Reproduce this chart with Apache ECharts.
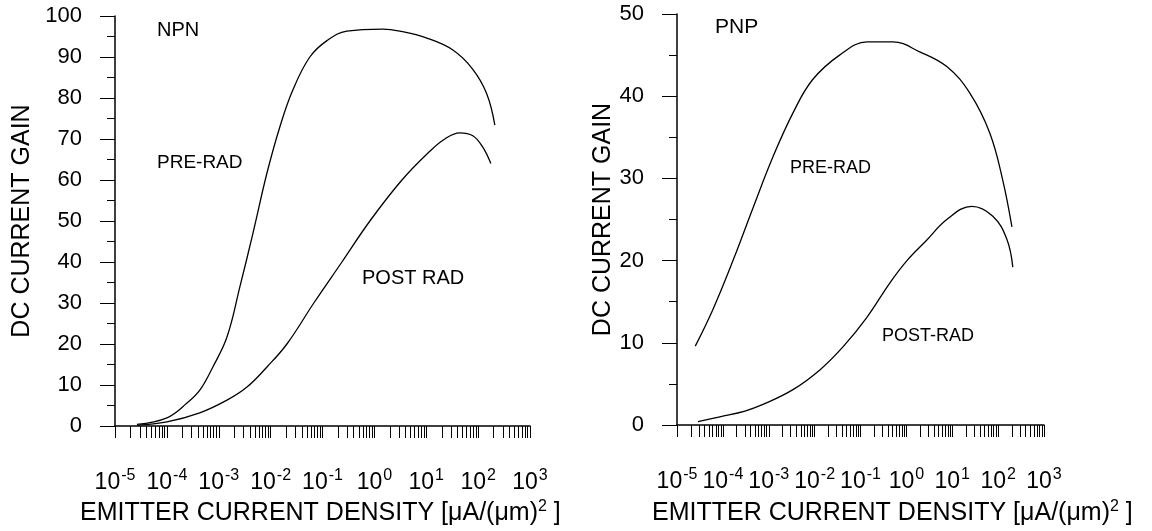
<!DOCTYPE html>
<html>
<head>
    <meta charset="UTF-8"/>
    <title>DC current gain</title>
    <script src="https://cdn.jsdelivr.net/npm/echarts@6/dist/echarts.min.js"></script>
    <style>
        html, body { margin: 0; padding: 0; background: #fff; }
        #charts { width: 1152px; height: 531px; }
    </style>
</head>
<body>
<div id="charts"></div>
<script>
    // emitter current density (uA/um^2) and gain
    var npnPreX = [2.65e-5, 1e-4, 2.44e-4, 4.35e-4, 7.7e-4, 1.44e-3, 2.56e-3, 4.56e-3, 8.5e-3, 0.0151, 0.0269, 0.057, 0.122, 0.295, 1.46, 3.1, 10.3, 32.6, 79, 147, 210];
    var npnPreY = [0.4, 2, 5.6, 8.8, 14.4, 21.7, 34, 47, 61.7, 73, 82, 90, 94, 96.3, 96.8, 96.3, 94.6, 91.7, 87, 81, 73.4];
    var npnPostX = [2.65e-5, 1e-4, 4.3e-4, 1.44e-3, 3.5e-3, 8.5e-3, 0.0206, 0.068, 0.237, 0.82, 3.4, 11.7, 22.8, 44, 79, 123, 176];
    var npnPostY = [0.2, 1, 3.2, 6.3, 9.5, 14.4, 20, 30, 40, 50, 60, 67, 70, 71.5, 70.8, 68, 64];
    var pnpPreX = [2.5e-5, 6e-5, 1.66e-4, 4.6e-4, 1.23e-3, 3.4e-3, 9e-3, 0.035, 0.14, 0.51, 1.95, 7.6, 24, 66, 126, 200];
    var pnpPreY = [9.6, 14, 20, 26.5, 32.6, 38, 42, 45, 46.6, 46.6, 45.4, 43.6, 40.4, 35.5, 29.8, 24.1];
    var pnpPostX = [2.87e-5, 8.6e-5, 3.03e-4, 7.5e-4, 3.37e-3, 0.013, 0.0414, 0.138, 0.438, 1.03, 2.8, 7.6, 26.7, 76.7, 155, 209];
    var pnpPostY = [0.4, 1, 1.7, 2.5, 4.3, 6.7, 9.5, 13.1, 17.3, 20, 22.5, 25, 26.6, 25.4, 22.6, 19.2];

    var decades = [1e-5, 1e-4, 1e-3, 1e-2, 1e-1, 1, 10, 100, 1000];
    var mantissas = [1, 2, 3, 4, 5, 6, 7, 8, 9];

    var font = '"Liberation Sans", Arial, sans-serif';

    var logTicks = [];
    decades.forEach(function (d, i) {
        if (i === decades.length - 1) { logTicks.push(d); return; }
        mantissas.forEach(function (m) { logTicks.push(+(m * d).toPrecision(3)); });
    });

    function pairs(xs, ys) {
        return xs.map(function (x, i) { return [x, ys[i]]; });
    }

    function xAxisOf(gridIndex) {
        return {
            type: 'log', logBase: 10, gridIndex: gridIndex,
            min: 1e-5, max: 1e3,
            axisLine: { lineStyle: { color: '#000', width: 1.5 } },
            axisTick: { length: 12, lineStyle: { color: '#000' }, customValues: logTicks },
            splitLine: { show: false },
            axisLabel: {
                margin: 42, customValues: decades, color: '#000', fontSize: 23,
                formatter: function (v) {
                    return '{b|10}{e|' + Math.round(Math.log10(v)) + '}';
                },
                rich: {
                    b: { fontFamily: font, fontSize: 23, color: '#000' },
                    e: { fontFamily: font, fontSize: 16, color: '#000', padding: [0, 0, 13, 1] }
                }
            }
        };
    }

    function yAxisOf(gridIndex, max, step, gap) {
        return {
            type: 'value', gridIndex: gridIndex, min: 0, max: max, interval: step,
            name: 'DC CURRENT GAIN', nameLocation: 'middle', nameGap: gap,
            nameTextStyle: { fontFamily: font, fontSize: 25, color: '#000' },
            axisLine: { show: true, lineStyle: { color: '#000', width: 1.5 } },
            axisTick: { show: true, length: 15, lineStyle: { color: '#000' } },
            minorTick: { show: true, splitNumber: 2, length: 8, lineStyle: { color: '#000' } },
            splitLine: { show: false },
            axisLabel: { margin: 33, fontFamily: font, fontSize: 22, color: '#000' }
        };
    }

    function curve(xi, data) {
        return {
            type: 'line', xAxisIndex: xi, yAxisIndex: xi, data: data,
            smooth: 0.4, symbol: 'none',
            lineStyle: { color: '#000', width: 1.3 }
        };
    }

    function label(text, x, y, size) {
        return {
            type: 'text', left: x, top: y,
            style: { text: text, font: size + 'px ' + font, fill: '#000' }
        };
    }

    var titleRich = {
        t: { fontFamily: font, fontSize: 25, fontWeight: 'normal', color: '#000' },
        s: { fontFamily: font, fontSize: 16, fontWeight: 'normal', color: '#000', padding: [0, 0, 12, 0] }
    };
    var xTitle = '{t|EMITTER CURRENT DENSITY [\u03bcA/(\u03bcm)}{s|2}{t| ]}';

    var myChart = echarts.init(document.getElementById('charts'));

    var option = {
        animation: false,
        title: [
            { text: xTitle, left: 80, top: 499, padding: 0, textStyle: { rich: titleRich } },
            { text: xTitle, left: 652, top: 499, padding: 0, textStyle: { rich: titleRich } }
        ],
        grid: [
            { left: 115, right: 622, top: 16, bottom: 105 },
            { left: 677, right: 108, top: 14, bottom: 106 }
        ],
        xAxis: [xAxisOf(0), xAxisOf(1)],
        yAxis: [yAxisOf(0, 100, 10, 80), yAxisOf(1, 50, 10, 59)],
        series: [
            curve(0, pairs(npnPreX, npnPreY)),
            curve(0, pairs(npnPostX, npnPostY)),
            curve(1, pairs(pnpPreX, pnpPreY)),
            curve(1, pairs(pnpPostX, pnpPostY))
        ],
        graphic: [
            label('NPN', 157, 20, 20),
            label('PRE-RAD', 157, 153, 19),
            label('POST RAD', 362, 268, 20),
            label('PNP', 715, 17, 21),
            label('PRE-RAD', 790, 159, 18),
            label('POST-RAD', 882, 327, 18)
        ]
    };

    myChart.setOption(option);
</script>
</body>
</html>
